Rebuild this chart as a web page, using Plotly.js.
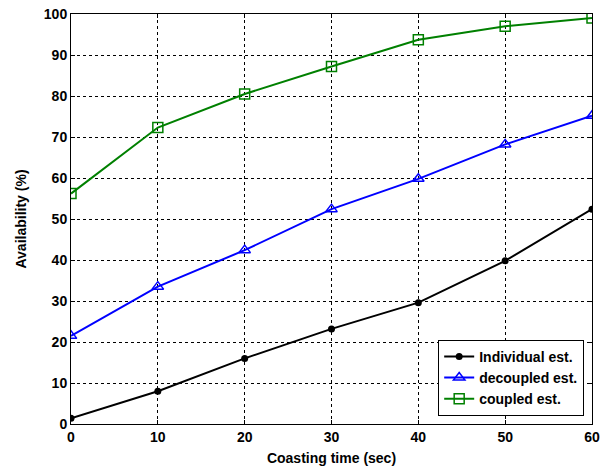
<!DOCTYPE html>
<html><head><meta charset="utf-8">
<script src="https://cdn.plot.ly/plotly-3.0.1.min.js"></script>
<style>html,body{margin:0;padding:0;background:#fff}#c{width:610px;height:470px}</style>
</head><body><div id="c"></div>
<script>
const coastingTime = [0, 10, 20, 30, 40, 50, 60];
const individualEst = [1.4, 8.0, 16.0, 23.2, 29.6, 39.8, 52.4];
const decoupledEst = [21.5, 33.5, 42.4, 52.4, 59.8, 68.2, 75.2];
const coupledEst = [56.2, 72.3, 80.5, 87.2, 93.7, 97.0, 99.0];
const seriesNames = ['Individual est.', 'decoupled est.', 'coupled est.'];
const xTicks = [0, 10, 20, 30, 40, 50, 60];
const yTicks = [0, 10, 20, 30, 40, 50, 60, 70, 80, 90, 100];

const fam = 'Liberation Sans, Arial, sans-serif';
const bold14 = {family: fam, size: 14, color: '#000', weight: 'bold'};
const traces = [
  {x: coastingTime, y: individualEst, name: seriesNames[0], mode: 'lines+markers',
   line: {color: '#000', width: 2}, marker: {symbol: 'circle', size: 7, color: '#000'}},
  {x: coastingTime, y: decoupledEst, name: seriesNames[1], mode: 'lines+markers',
   line: {color: '#0000ff', width: 2}, marker: {symbol: 'triangle-up-open', size: 10, color: '#0000ff', line: {width: 1.5}}},
  {x: coastingTime, y: coupledEst, name: seriesNames[2], mode: 'lines+markers',
   line: {color: '#008000', width: 2}, marker: {symbol: 'square-open', size: 10, color: '#008000', line: {width: 1.5}}}
];
const axisCommon = {
  showline: true, linecolor: '#000', linewidth: 1, mirror: 'ticks',
  ticks: 'inside', ticklen: 4, tickcolor: '#000',
  showgrid: true, gridcolor: '#000', griddash: '3px,3px', gridwidth: 1,
  zeroline: false, tickfont: bold14
};
const layout = {
  width: 610, height: 470,
  margin: {l: 71, r: 18, t: 14, b: 46},
  paper_bgcolor: '#fff', plot_bgcolor: '#fff',
  font: {family: fam, size: 14, color: '#000'},
  showlegend: true,
  legend: {x: 0.985, y: 0.02, xanchor: 'right', yanchor: 'bottom',
    bgcolor: '#fff', bordercolor: '#000', borderwidth: 1,
    font: bold14, tracegroupgap: 0},
  xaxis: Object.assign({}, axisCommon, {range: [0, 60], tickvals: xTicks, ticktext: xTicks.map(String),
    title: {text: 'Coasting time (sec)', font: bold14, standoff: 9}}),
  yaxis: Object.assign({}, axisCommon, {range: [0, 100], tickvals: yTicks, ticktext: yTicks.map(String),
    title: {text: 'Availability (%)', font: bold14, standoff: 13}})
};
Plotly.newPlot('c', traces, layout, {displayModeBar: false, staticPlot: true});
</script></body></html>
